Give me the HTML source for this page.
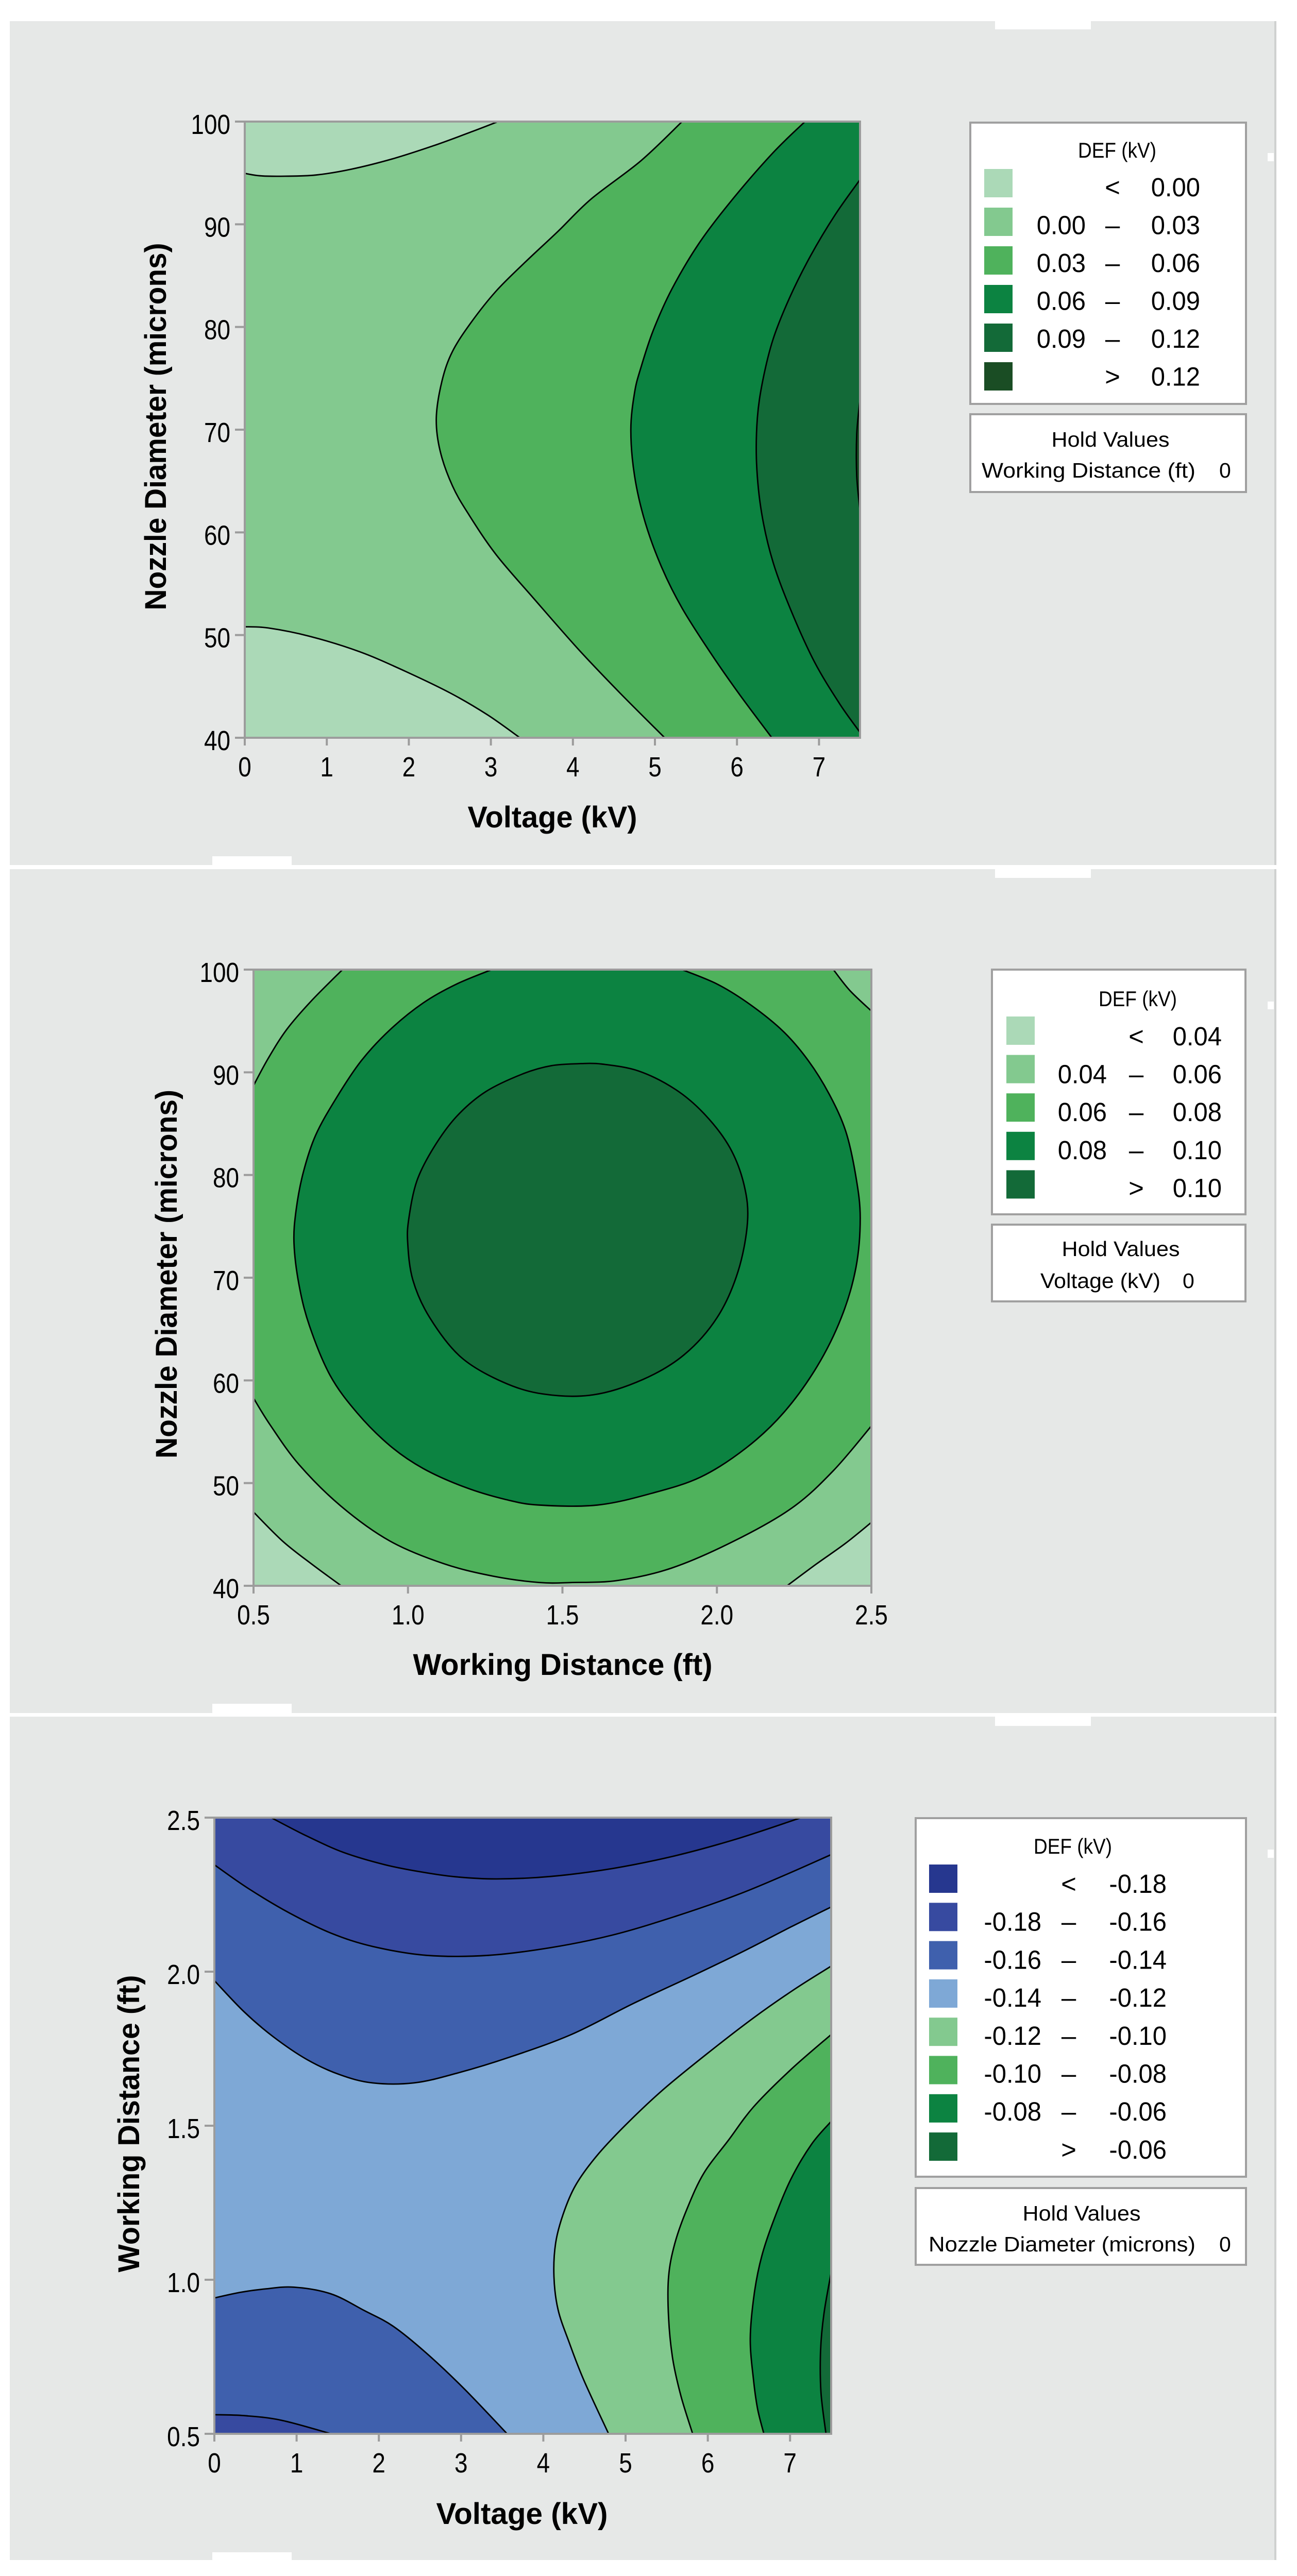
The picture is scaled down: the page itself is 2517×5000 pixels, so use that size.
<!DOCTYPE html>
<html lang="en">
<head>
<meta charset="utf-8">
<title>DEF (kV) contour plots</title>
<style>
html,body{margin:0;padding:0;background:#fff}
svg{display:block}
text{font-family:"Liberation Sans",sans-serif;fill:#000}
</style>
</head>
<body>
<svg id="figure" xmlns="http://www.w3.org/2000/svg" width="2517" height="5000" viewBox="0 0 2517 5000">
  <rect x="0" y="0" width="2517" height="5000" fill="#ffffff"/>
  <rect x="19" y="41" width="2456" height="1638" fill="#e6e8e7"/>
  <rect x="19" y="1687" width="2456" height="1638" fill="#e6e8e7"/>
  <rect x="19" y="3332" width="2456" height="1637" fill="#e6e8e7"/>
  <rect x="2473" y="41" width="4" height="4928" fill="#cfd1d0"/>
  <rect x="2473" y="1679" width="4" height="8" fill="#ffffff"/>
  <rect x="2473" y="3325" width="4" height="7" fill="#ffffff"/>
  <rect x="1931" y="41" width="186" height="16" fill="#ffffff"/>
  <rect x="1931" y="1687" width="186" height="17" fill="#ffffff"/>
  <rect x="1931" y="3332" width="186" height="18" fill="#ffffff"/>
  <rect x="412" y="1662" width="154" height="17" fill="#ffffff"/>
  <rect x="412" y="3307" width="154" height="18" fill="#ffffff"/>
  <rect x="412" y="4954" width="154" height="15" fill="#ffffff"/>
  <rect x="2460" y="297" width="12" height="16" fill="#ffffff"/>
  <rect x="2460" y="1944" width="12" height="15" fill="#ffffff"/>
  <rect x="2460" y="3590" width="12" height="16" fill="#ffffff"/>
  <defs>
    <clipPath id="clip-1"><rect x="475" y="236" width="1194" height="1196"/></clipPath>
    <clipPath id="clip-2"><rect x="492" y="1882" width="1199" height="1196"/></clipPath>
    <clipPath id="clip-3"><rect x="416" y="3528" width="1197" height="1196"/></clipPath>
  </defs>
</svg>
<script>
// ---------- Shared colours ----------
const greens = ['#abd9b7', '#83c98f', '#4fb25c', '#0c8341', '#136a38', '#1a4d24'];
const blues = ['#26378f', '#374aa0', '#3f60ad', '#7ea8d6'];

// ---------- Plot 1: Voltage (kV) vs Nozzle Diameter (microns) ----------
const p1XTicks = [0, 1, 2, 3, 4, 5, 6, 7];
const p1YTicks = [40, 50, 60, 70, 80, 90, 100];
const p1Below0Top = [[0, 94.96], [0.187, 94.72], [0.489, 94.68], [0.867, 94.8], [1.296, 95.36], [1.8, 96.37], [2.305, 97.66], [2.759, 98.99], [3.087, 100]];
const p1Below0Bottom = [[0, 50.81], [0.287, 50.69], [0.792, 49.88], [1.397, 48.39], [1.952, 46.49], [2.507, 44.35], [2.961, 42.22], [3.354, 40]];
const p1Level003 = [[5.331, 100], [4.827, 96.17], [4.222, 92.46], [3.818, 89.31], [3.415, 86.29], [3.061, 83.47], [2.759, 80.44], [2.532, 77.62], [2.406, 74.8], [2.335, 71.17], [2.381, 67.94], [2.532, 64.52], [2.734, 61.69], [3.061, 57.86], [3.515, 53.63], [4.07, 48.59], [4.575, 44.35], [5.119, 40]];
const p1Level006 = [[6.829, 100], [6.441, 96.98], [5.936, 92.34], [5.533, 88.1], [5.205, 83.67], [4.978, 79.64], [4.827, 76], [4.751, 73.59], [4.706, 69.96], [4.751, 65.52], [4.877, 61.09], [5.079, 56.65], [5.331, 52.62], [5.684, 48.19], [6.037, 44.15], [6.425, 40]];
const p1Level009 = [[7.5, 94.35], [7.197, 90.93], [6.895, 86.9], [6.642, 82.86], [6.441, 78.83], [6.315, 74.8], [6.249, 71.17], [6.239, 66.73], [6.3, 61.9], [6.441, 57.06], [6.668, 52.22], [6.945, 47.38], [7.248, 43.35], [7.5, 40.52]];
const p1Level012 = [[7.5, 72.98], [7.46, 69.56], [7.46, 65.52], [7.5, 62.1]];
const p1LegendLow = ['', '0.00', '0.03', '0.06', '0.09', ''];
const p1LegendSymbol = ['<', '–', '–', '–', '–', '>'];
const p1LegendHigh = ['0.00', '0.03', '0.06', '0.09', '0.12', '0.12'];

// ---------- Plot 2: Working Distance (ft) vs Nozzle Diameter (microns) ----------
const p2XTicks = ['0.5', '1.0', '1.5', '2.0', '2.5'];
const p2YTicks = [40, 50, 60, 70, 80, 90, 100];
const p2Level004Left = [[0.5, 47.18], [0.594, 44.35], [0.687, 42.14], [0.784, 40]];
const p2Level004Right = [[2.5, 46.17], [2.417, 44.15], [2.323, 42.14], [2.227, 40]];
const p2Level006TopLeft = [[0.788, 100], [0.688, 96.98], [0.607, 94.15], [0.547, 91.33], [0.5, 88.71]];
const p2Level006TopRight = [[2.377, 100], [2.43, 97.98], [2.5, 95.97]];
const p2Level006Bottom = [[0.5, 58.27], [0.554, 55.65], [0.647, 51.81], [0.782, 47.78], [0.942, 44.35], [1.117, 42.14], [1.277, 40.93], [1.425, 40.32], [1.532, 40.32], [1.68, 40.52], [1.854, 41.73], [2.055, 44.35], [2.243, 47.58], [2.377, 51.21], [2.5, 55.56]];
const p2Level008 = [[1.271, 100], [1.157, 98.59], [1.05, 96.77], [0.942, 94.15], [0.849, 91.13], [0.768, 87.5], [0.701, 83.87], [0.661, 80.24], [0.638, 76.61], [0.631, 73.39], [0.647, 69.35], [0.681, 65.32], [0.748, 60.48], [0.835, 56.85], [0.942, 53.63], [1.05, 51.41], [1.184, 49.6], [1.318, 48.39], [1.425, 47.86], [1.613, 47.86], [1.787, 48.99], [1.948, 50.6], [2.095, 53.43], [2.216, 56.85], [2.323, 61.29], [2.403, 66.13], [2.45, 70.97], [2.464, 75.81], [2.45, 79.84], [2.417, 84.27], [2.363, 87.9], [2.296, 91.13], [2.216, 93.95], [2.109, 96.57], [2.001, 98.59], [1.887, 100]];
const p2Level010 = [[1.559, 90.85], [1.465, 90.65], [1.371, 89.84], [1.251, 88.1], [1.157, 85.69], [1.083, 82.66], [1.029, 79.44], [1.003, 75.81], [0.999, 73.39], [1.016, 69.76], [1.07, 66.13], [1.17, 62.3], [1.304, 59.88], [1.438, 58.67], [1.599, 58.59], [1.76, 60.08], [1.894, 62.5], [2.001, 66.13], [2.068, 70.56], [2.099, 75.4], [2.088, 79.03], [2.042, 82.66], [1.961, 85.89], [1.867, 88.31], [1.747, 90.12], [1.626, 90.81], [1.559, 90.85]];
const p2LegendLow = ['', '0.04', '0.06', '0.08', ''];
const p2LegendSymbol = ['<', '–', '–', '–', '>'];
const p2LegendHigh = ['0.04', '0.06', '0.08', '0.10', '0.10'];

// ---------- Plot 3: Voltage (kV) vs Working Distance (ft) ----------
const p3XTicks = [0, 1, 2, 3, 4, 5, 6, 7];
const p3YTicks = ['0.5', '1.0', '1.5', '2.0', '2.5'];
const p3Level018 = [[0.69, 2.5], [1.118, 2.441], [1.571, 2.387], [2.075, 2.347], [2.528, 2.323], [2.93, 2.308], [3.434, 2.301], [4.089, 2.309], [4.844, 2.335], [5.599, 2.376], [6.354, 2.431], [7.135, 2.5]];
const p3Level016Top = [[0, 2.347], [0.413, 2.27], [0.916, 2.19], [1.42, 2.125], [1.923, 2.082], [2.578, 2.053], [3.333, 2.053], [4.089, 2.078], [4.844, 2.119], [5.599, 2.179], [6.354, 2.249], [6.959, 2.316], [7.5, 2.38]];
const p3Level014Top = [[0, 1.971], [0.36, 1.87], [0.715, 1.789], [1.118, 1.716], [1.521, 1.666], [1.923, 1.639], [2.427, 1.639], [2.93, 1.669], [3.585, 1.722], [4.34, 1.796], [5.096, 1.897], [5.851, 1.991], [6.455, 2.069], [7.009, 2.145], [7.5, 2.21]];
const p3Level014Bottom = [[0, 0.941], [0.312, 0.959], [0.614, 0.97], [0.967, 0.976], [1.42, 0.954], [1.823, 0.9], [2.175, 0.849], [2.578, 0.762], [3.031, 0.648], [3.56, 0.5]];
const p3Level016Bottom = [[0, 0.562], [0.363, 0.559], [0.816, 0.544], [1.42, 0.5]];
const p3Level012 = [[7.5, 2.018], [7.06, 1.944], [6.556, 1.85], [6.002, 1.736], [5.448, 1.615], [4.995, 1.501], [4.643, 1.4], [4.391, 1.306], [4.24, 1.212], [4.149, 1.118], [4.129, 1.01], [4.179, 0.903], [4.315, 0.796], [4.491, 0.675], [4.794, 0.5]];
const p3Level010 = [[7.5, 1.796], [7.009, 1.682], [6.556, 1.561], [6.254, 1.454], [5.952, 1.346], [5.75, 1.232], [5.599, 1.118], [5.523, 1.01], [5.523, 0.876], [5.574, 0.742], [5.675, 0.621], [5.816, 0.5]];
const p3Level008 = [[7.5, 1.514], [7.261, 1.44], [7.009, 1.326], [6.808, 1.198], [6.657, 1.078], [6.566, 0.957], [6.516, 0.809], [6.556, 0.675], [6.606, 0.58], [6.682, 0.5]];
const p3Level006 = [[7.5, 1.024], [7.412, 0.89], [7.371, 0.769], [7.376, 0.634], [7.437, 0.5]];
const p3LegendLow = ['', '-0.18', '-0.16', '-0.14', '-0.12', '-0.10', '-0.08', ''];
const p3LegendSymbol = ['<', '–', '–', '–', '–', '–', '–', '>'];
const p3LegendHigh = ['-0.18', '-0.16', '-0.14', '-0.12', '-0.10', '-0.08', '-0.06', '-0.06'];

// ---------- Helpers ----------
const NS = 'http://www.w3.org/2000/svg';
const root = document.getElementById('figure');

function scale(d0, d1, r0, r1) {
  return function (v) { return r0 + (v - d0) / (d1 - d0) * (r1 - r0); };
}

function shape(parent, tag, name, attrs) {
  const el = document.createElementNS(NS, tag);
  
  
  for (const k in attrs) el.setAttribute(k, attrs[k]);
  parent.appendChild(el);
  return el;
}

function label(parent, name, str, x, y, size, anchor, sx, weight, length, rotate) {
  const el = document.createElementNS(NS, 'text');
  
  
  el.setAttribute('font-size', size);
  el.setAttribute('text-anchor', anchor);
  el.setAttribute('font-weight', weight || 'normal');
  let t = 'translate(' + x + ',' + y + ')';
  if (rotate) t += ' rotate(-90)';
  if (sx && sx !== 1) t += ' scale(' + sx + ',1)';
  el.setAttribute('transform', t);
  if (length) {
    el.setAttribute('textLength', length);
    el.setAttribute('lengthAdjust', 'spacingAndGlyphs');
  }
  el.textContent = str;
  parent.appendChild(el);
  return el;
}

// Catmull-Rom smoothing through contour points mapped via the axis scales
function curve(points, x, y) {
  const p = points.map(function (q) { return [x(q[0]), y(q[1])]; });
  let d = 'M' + p[0][0].toFixed(1) + ' ' + p[0][1].toFixed(1);
  for (let i = 0; i < p.length - 1; i++) {
    const a = p[Math.max(i - 1, 0)], b = p[i], c = p[i + 1], e = p[Math.min(i + 2, p.length - 1)];
    const c1x = b[0] + (c[0] - a[0]) / 6, c1y = b[1] + (c[1] - a[1]) / 6;
    const c2x = c[0] - (e[0] - b[0]) / 6, c2y = c[1] - (e[1] - b[1]) / 6;
    d += 'C' + c1x.toFixed(1) + ' ' + c1y.toFixed(1) + ' ' + c2x.toFixed(1) + ' ' + c2y.toFixed(1) + ' ' + c[0].toFixed(1) + ' ' + c[1].toFixed(1);
  }
  return d;
}

function drawPlot(cfg) {
  const g = shape(root, 'g', cfg.name, {});
  const x = scale(cfg.xDomain[0], cfg.xDomain[1], cfg.left, cfg.right);
  const y = scale(cfg.yDomain[0], cfg.yDomain[1], cfg.bottom, cfg.top);
  const area = shape(g, 'g', 'contour-area', { 'clip-path': 'url(#' + cfg.clip + ')' });
  shape(area, 'rect', 'contour-base-band', { x: cfg.left, y: cfg.top, width: cfg.right - cfg.left, height: cfg.bottom - cfg.top, fill: cfg.base });
  cfg.bands.forEach(function (b) {
    let d = curve(b.line, x, y);
    (b.corners || []).forEach(function (c) { d += 'L' + x(c[0]).toFixed(1) + ' ' + y(c[1]).toFixed(1); });
    shape(area, 'path', 'contour-band', { d: d + 'Z', fill: b.color });
  });
  cfg.bands.forEach(function (b) {
    shape(area, 'path', 'contour-line', { d: curve(b.line, x, y), fill: 'none', stroke: '#000', 'stroke-width': 2.8 });
  });
  shape(g, 'rect', 'plot-frame', { x: cfg.left, y: cfg.top, width: cfg.right - cfg.left, height: cfg.bottom - cfg.top, fill: 'none', stroke: '#9c9c9c', 'stroke-width': 4 });
  cfg.xTicks.forEach(function (t) {
    const px = x(parseFloat(t));
    shape(g, 'line', 'x-tick', { x1: px, x2: px, y1: cfg.bottom, y2: cfg.bottom + 15, stroke: '#9c9c9c', 'stroke-width': 4 });
    label(g, 'x-tick-label', String(t), px, cfg.bottom + 75, 54, 'middle', 0.85);
  });
  cfg.yTicks.forEach(function (t) {
    const py = y(parseFloat(t));
    shape(g, 'line', 'y-tick', { x1: cfg.left - 19, x2: cfg.left, y1: py, y2: py, stroke: '#9c9c9c', 'stroke-width': 4 });
    label(g, 'y-tick-label', String(t), cfg.left - 28, py + 24, 54, 'end', 0.85);
  });
  label(g, 'x-axis-title', cfg.xTitle[0], cfg.xTitle[1], cfg.xTitle[2], 58, 'middle', 1, 'bold', cfg.xTitle[3]);
  label(g, 'y-axis-title', cfg.yTitle[0], cfg.yTitle[1], cfg.yTitle[2], 58, 'middle', 1, 'bold', cfg.yTitle[3], true);
}

function drawLegend(cfg) {
  const g = shape(root, 'g', cfg.name, {});
  shape(g, 'rect', 'legend-box', { x: cfg.boxX, y: cfg.boxY, width: cfg.boxW, height: cfg.boxH, fill: '#fff', stroke: '#a0a0a0', 'stroke-width': 4 });
  label(g, 'legend-title', 'DEF (kV)', cfg.titleX, cfg.titleY, 42, 'middle', 1, 'normal', 152);
  cfg.colors.forEach(function (c, i) {
    const top = cfg.rowY + i * cfg.rowStep;
    const base = cfg.textY + i * cfg.textStep;
    shape(g, 'rect', 'legend-swatch', { x: cfg.swatchX, y: top, width: 55, height: 55, fill: c });
    if (cfg.low[i]) label(g, 'legend-range-low', cfg.low[i], cfg.lowX, base, 51, 'end', 0.96);
    label(g, 'legend-range-symbol', cfg.symbol[i], cfg.symX, base, 51, 'middle', 1);
    label(g, 'legend-range-high', cfg.high[i], cfg.highX, base, 51, 'end', 0.96);
  });
  shape(g, 'rect', 'hold-values-box', { x: cfg.boxX, y: cfg.holdY, width: cfg.boxW, height: cfg.holdH, fill: '#fff', stroke: '#a0a0a0', 'stroke-width': 4 });
  label(g, 'hold-values-title', 'Hold Values', cfg.holdTitleX, cfg.holdTitleY, 41, 'middle', 1, 'normal', 229);
  label(g, 'hold-values-name', cfg.holdName, cfg.holdNameX, cfg.holdNameY, 41, 'start', 1, 'normal', cfg.holdNameW);
  label(g, 'hold-values-value', '0', cfg.holdZeroX, cfg.holdNameY, 41, 'start', 1);
}

// ---------- Draw ----------
drawPlot({
  name: 'plot-voltage-vs-nozzle', clip: 'clip-1', left: 475, right: 1669, top: 236, bottom: 1432,
  xDomain: [0, 7.5], yDomain: [40, 100], xTicks: p1XTicks, yTicks: p1YTicks, base: greens[1],
  bands: [
    { line: p1Below0Top, corners: [[0, 100]], color: greens[0] },
    { line: p1Below0Bottom, corners: [[0, 40]], color: greens[0] },
    { line: p1Level003, corners: [[7.5, 40], [7.5, 100]], color: greens[2] },
    { line: p1Level006, corners: [[7.5, 40], [7.5, 100]], color: greens[3] },
    { line: p1Level009, corners: [], color: greens[4] },
    { line: p1Level012, corners: [], color: greens[5] }
  ],
  xTitle: ['Voltage (kV)', 1072, 1606, 329],
  yTitle: ['Nozzle Diameter (microns)', 322, 828, 713]
});
drawPlot({
  name: 'plot-distance-vs-nozzle', clip: 'clip-2', left: 492, right: 1691, top: 1882, bottom: 3078,
  xDomain: [0.5, 2.5], yDomain: [40, 100], xTicks: p2XTicks, yTicks: p2YTicks, base: greens[2],
  bands: [
    { line: p2Level006TopLeft, corners: [[0.5, 100]], color: greens[1] },
    { line: p2Level006TopRight, corners: [[2.5, 100]], color: greens[1] },
    { line: p2Level006Bottom, corners: [[2.5, 40], [0.5, 40]], color: greens[1] },
    { line: p2Level004Left, corners: [[0.5, 40]], color: greens[0] },
    { line: p2Level004Right, corners: [[2.5, 40]], color: greens[0] },
    { line: p2Level008, corners: [], color: greens[3] },
    { line: p2Level010, corners: [], color: greens[4] }
  ],
  xTitle: ['Working Distance (ft)', 1092, 3251, 581],
  yTitle: ['Nozzle Diameter (microns)', 343, 2473, 716]
});
drawPlot({
  name: 'plot-voltage-vs-distance', clip: 'clip-3', left: 416, right: 1613, top: 3528, bottom: 4724,
  xDomain: [0, 7.5], yDomain: [0.5, 2.5], xTicks: p3XTicks, yTicks: p3YTicks, base: blues[3],
  bands: [
    { line: p3Level014Top, corners: [[7.5, 2.5], [0, 2.5]], color: blues[2] },
    { line: p3Level016Top, corners: [[7.5, 2.5], [0, 2.5]], color: blues[1] },
    { line: p3Level018, corners: [], color: blues[0] },
    { line: p3Level014Bottom, corners: [[0, 0.5]], color: blues[2] },
    { line: p3Level016Bottom, corners: [[0, 0.5]], color: blues[1] },
    { line: p3Level012, corners: [[7.5, 0.5]], color: greens[1] },
    { line: p3Level010, corners: [[7.5, 0.5]], color: greens[2] },
    { line: p3Level008, corners: [[7.5, 0.5]], color: greens[3] },
    { line: p3Level006, corners: [[7.5, 0.5]], color: greens[4] }
  ],
  xTitle: ['Voltage (kV)', 1013, 4899, 333],
  yTitle: ['Working Distance (ft)', 270, 4122, 577]
});

drawLegend({
  name: 'legend-plot-1', boxX: 1883, boxY: 238, boxW: 2418 - 1883, boxH: 546,
  titleX: 2168, titleY: 306, colors: greens, low: p1LegendLow, symbol: p1LegendSymbol, high: p1LegendHigh,
  swatchX: 1910, rowY: 328, rowStep: 75, textY: 381, textStep: 73.5, lowX: 2107, symX: 2159, highX: 2329,
  holdY: 804, holdH: 151, holdTitleX: 2155, holdTitleY: 867, holdName: 'Working Distance (ft)',
  holdNameX: 1905, holdNameY: 927, holdNameW: 415, holdZeroX: 2366
});
drawLegend({
  name: 'legend-plot-2', boxX: 1925, boxY: 1882, boxW: 2417 - 1925, boxH: 475,
  titleX: 2208, titleY: 1953, colors: greens.slice(0, 5), low: p2LegendLow, symbol: p2LegendSymbol, high: p2LegendHigh,
  swatchX: 1953, rowY: 1973, rowStep: 74.6, textY: 2029, textStep: 73.6, lowX: 2148, symX: 2205, highX: 2371,
  holdY: 2377, holdH: 149, holdTitleX: 2175, holdTitleY: 2438, holdName: 'Voltage (kV)',
  holdNameX: 2019, holdNameY: 2500, holdNameW: 233, holdZeroX: 2295
});
drawLegend({
  name: 'legend-plot-3', boxX: 1777, boxY: 3529, boxW: 2418 - 1777, boxH: 696,
  titleX: 2082, titleY: 3598, colors: [blues[0], blues[1], blues[2], blues[3], greens[1], greens[2], greens[3], greens[4]], low: p3LegendLow, symbol: p3LegendSymbol, high: p3LegendHigh,
  swatchX: 1803, rowY: 3619, rowStep: 74.3, textY: 3674, textStep: 73.7, lowX: 2021, symX: 2074, highX: 2264,
  holdY: 4247, holdH: 149, holdTitleX: 2099, holdTitleY: 4310, holdName: 'Nozzle Diameter (microns)',
  holdNameX: 1802, holdNameY: 4370, holdNameW: 518, holdZeroX: 2366
});
</script>
</body>
</html>
